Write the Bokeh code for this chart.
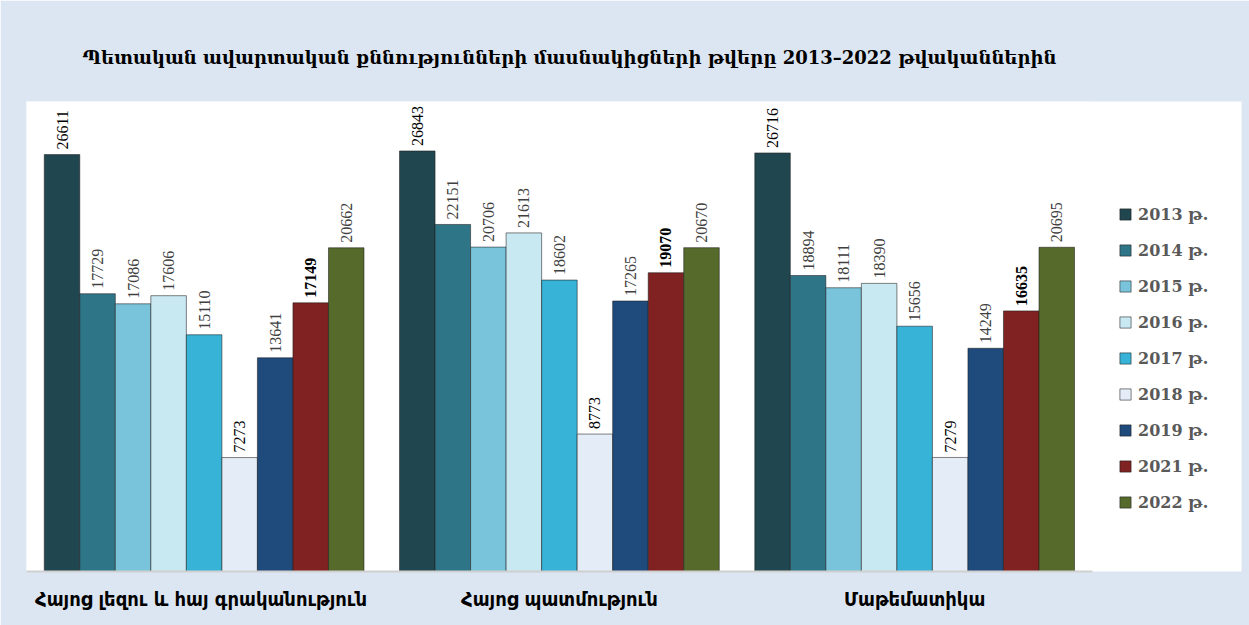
from math import pi
from bokeh.plotting import figure
from bokeh.models import (ColumnDataSource, LabelSet, Legend, LegendItem, Range1d,
                          FixedTicker, BoxAnnotation)
from bokeh.transform import dodge
from bokeh.embed import file_html
from bokeh.resources import INLINE

title_text = "Պետական ավարտական քննությունների մասնակիցների թվերը 2013–2022 թվականներին"
categories = ["Հայոց լեզու  և հայ գրականություն", "Հայոց պատմություն", "Մաթեմատիկա"]
years = ["2013 թ.", "2014 թ.", "2015 թ.", "2016 թ.", "2017 թ.", "2018 թ.", "2019 թ.", "2021 թ.", "2022 թ."]
v2013 = [26611, 26843, 26716]
v2014 = [17729, 22151, 18894]
v2015 = [17086, 20706, 18111]
v2016 = [17606, 21613, 18390]
v2017 = [15110, 18602, 15656]
v2018 = [7273, 8773, 7279]
v2019 = [13641, 17265, 14249]
v2021 = [17149, 19070, 16635]
v2022 = [20662, 20670, 20695]
series = [v2013, v2014, v2015, v2016, v2017, v2018, v2019, v2021, v2022]

colors = ["#20464f", "#2e7588", "#79c4da", "#c8e8f2", "#36b3d6", "#e4ecf7", "#1f4a7c", "#7f2221", "#566a2c"]
label_colors = ["#000000", "#404040", "#404040", "#404040", "#404040", "#000000", "#404040", "#000000", "#404040"]
label_styles = ["normal", "normal", "normal", "normal", "normal", "normal", "normal", "bold", "normal"]

ncat = len(categories)
centers = [i + 0.5 for i in range(ncat)]
data = {"x": centers}
keys = []
for i, s in enumerate(series):
    k = "y%d" % i
    keys.append(k)
    data[k] = s
source = ColumnDataSource(data)

ymax = 30000
p = figure(width=1249, height=625, output_backend="svg", toolbar_location=None,
           x_range=Range1d(0, ncat + 0.42), y_range=Range1d(0, ymax),
           min_border_left=26, min_border_right=8, min_border_top=101, min_border_bottom=54)
p.border_fill_color = "#dce6f2"
p.background_fill_color = "#dce6f2"
p.background_fill_alpha = 0
p.outline_line_color = None
p.styles = {"outline": "1px solid #3a6a78", "outline-offset": "-7px"}

# white plot area behind the bars (category extent)
p.add_layout(BoxAnnotation(left=0, right=ncat, bottom=0, top=ymax, fill_color="white",
                           fill_alpha=1, line_color=None, level="underlay"))

p.title.text = title_text
p.title.align = "left"
p.title.offset = 56
p.title.text_font = "DejaVu Serif"
p.title.text_font_style = "bold"
p.title.text_font_size = "18px"
p.title.text_color = "#000000"
p.title.standoff = 68

n = len(series)
width = 0.1
items = []
for i, k in enumerate(keys):
    off = (i - (n - 1) / 2) * width
    r = p.vbar(x=dodge("x", off), top=k, width=width, source=source,
               fill_color=colors[i], line_color="#1e1e1e", line_alpha=0.55, line_width=1)
    items.append(LegendItem(label=years[i], renderers=[r]))
    lab = LabelSet(x=dodge("x", off), y=k, text=k, source=source,
                   angle=pi / 2, text_align="left", text_baseline="middle", y_offset=5,
                   text_font="Liberation Sans", text_font_size="16px", text_color=label_colors[i],
                   text_font_style=label_styles[i], background_fill_color="white")
    p.add_layout(lab)

legend = Legend(items=items, location=(1092, 59), orientation="vertical",
                label_text_font="DejaVu Serif", label_text_font_size="16px",
                label_text_font_style="bold", label_text_color="#595959",
                glyph_width=14, glyph_height=14, label_height=20, spacing=16,
                label_standoff=6, padding=0, margin=0,
                border_line_color=None, background_fill_alpha=0)
p.add_layout(legend, "center")

p.yaxis.visible = False
p.grid.visible = False
p.xaxis.bounds = (0, ncat)
p.xaxis.ticker = FixedTicker(ticks=centers)
p.xaxis.major_label_overrides = {c: name for c, name in zip(centers, categories)}
p.xaxis.axis_line_color = "#d0d0d0"
p.xaxis.axis_line_width = 2
p.xaxis.major_tick_line_color = None
p.xaxis.minor_tick_line_color = None
p.xaxis.major_label_standoff = 9
p.xaxis.major_label_text_font = "DejaVu Sans Condensed"
p.xaxis.major_label_text_font_style = "bold"
p.xaxis.major_label_text_font_size = "20px"
p.xaxis.major_label_text_color = "#000000"

open("out.html", "w").write(file_html(p, INLINE))
